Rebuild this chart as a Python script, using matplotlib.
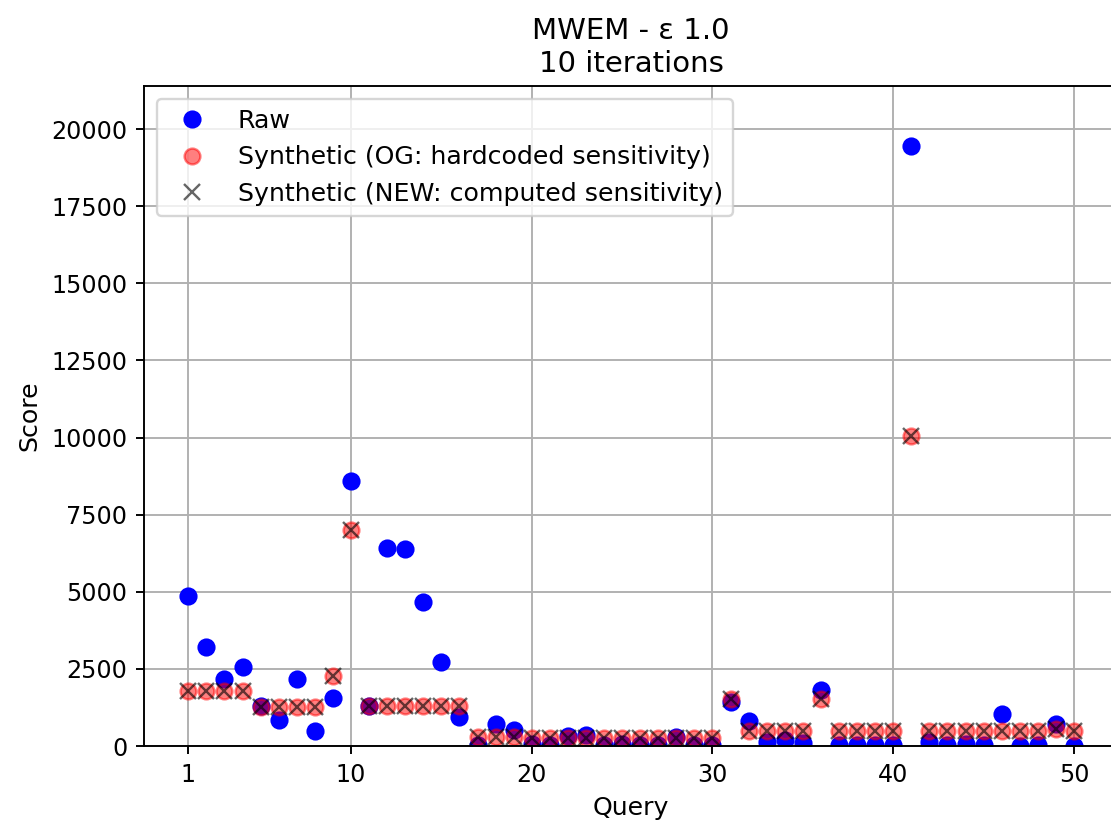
import matplotlib
matplotlib.use("Agg")
import matplotlib.pyplot as plt

queries = list(range(1, 51))
raw = [4860, 3200, 2170, 2560, 1290, 850, 2160, 500, 1560, 8600,
       1290, 6420, 6380, 4670, 2730, 950, 30, 700, 510, 60,
       20, 330, 360, 40, 50, 30, 20, 300, 40, 30,
       1440, 800, 130, 200, 100, 1820, 30, 30, 20, 30,
       19450, 130, 30, 50, 20, 1030, 0, 30, 700, 0]
synthetic_og = [1790, 1790, 1790, 1790, 1280, 1280, 1280, 1280, 2270, 7000,
                1310, 1310, 1310, 1310, 1310, 1310, 280, 280, 280, 250,
                250, 260, 260, 250, 250, 250, 250, 260, 250, 250,
                1520, 500, 500, 500, 500, 1520, 500, 500, 500, 500,
                10050, 500, 500, 500, 500, 500, 500, 500, 540, 500]
synthetic_new = list(synthetic_og)
xtick_vals = [1, 10, 20, 30, 40, 50]

DPI = 172
fig = plt.figure(figsize=(1111 / DPI, 825 / DPI), dpi=DPI)
ax = fig.add_axes([144 / 1111, 1 - 746 / 825, 974.3 / 1111, (746 - 86) / 825])

ax.plot(queries, raw, 'o', color='blue', markersize=6.6, label='Raw')
ax.plot(queries, synthetic_og, 'o', color='red', alpha=0.5, markersize=6.6,
        label='Synthetic (OG: hardcoded sensitivity)')
ax.plot(queries, synthetic_new, 'x', color='black', alpha=0.6, markersize=6.4,
        label='Synthetic (NEW: computed sensitivity)')

ax.set_ylim(0, max(raw) * 1.1)
ax.set_xticks(xtick_vals)
ax.grid(True)
ax.set_xlabel('Query', fontsize=10.6)
ax.set_ylabel('Score', fontsize=10.6)
ax.set_title('MWEM - ε 1.0\n10 iterations', fontsize=12.2)
ax.legend(loc='upper left', fontsize=10.6)

fig.savefig('out.png', dpi=DPI)
